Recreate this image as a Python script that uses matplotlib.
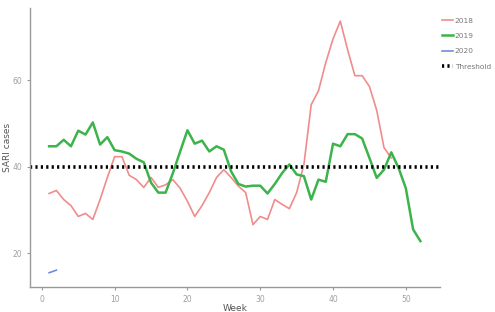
import matplotlib
matplotlib.use("Agg")
import matplotlib.pyplot as plt

weeks_2018 = list(range(1, 49))
cases_2018 = [33.8, 34.5, 32.4, 31.0, 28.5, 29.2, 27.8, 32.4, 37.5, 42.3,
              42.3, 38.0, 37.0, 35.2, 37.5, 35.2, 35.8, 37.0, 35.0, 32.0,
              28.5, 31.0, 34.0, 37.5, 39.3, 37.5, 35.5, 34.0, 26.6, 28.5,
              27.8, 32.4, 31.3, 30.3, 34.0, 40.5, 54.3, 57.5, 64.0, 69.5,
              73.6, 67.0, 61.0, 61.0, 58.5, 53.0, 44.4, 42.0]

weeks_2019 = list(range(1, 53))
cases_2019 = [44.7, 44.7, 46.2, 44.7, 48.3, 47.4, 50.2, 45.1, 46.8, 43.8,
              43.5, 43.0, 41.8, 41.0, 36.3, 34.0, 34.0, 38.5, 43.5, 48.4,
              45.3, 46.0, 43.5, 44.7, 43.9, 38.9, 36.0, 35.4, 35.6, 35.6,
              33.8, 36.0, 38.5, 40.5, 38.2, 37.8, 32.4, 37.0, 36.5, 45.3,
              44.7, 47.5, 47.5, 46.5, 42.0, 37.4, 39.3, 43.3, 39.7, 35.0,
              25.5, 22.8]

weeks_2020 = [1, 2]
cases_2020 = [15.5, 16.1]

threshold = 40

fig = plt.figure(figsize=(4.95, 3.12), dpi=100)
ax = fig.add_axes([0.061, 0.08, 0.828, 0.894])

l1, = ax.plot(weeks_2018, cases_2018, color="#f08c8c", lw=1.2)
l2, = ax.plot(weeks_2019, cases_2019, color="#3cb44b", lw=1.8)
l3, = ax.plot(weeks_2020, cases_2020, color="#6b8fe0", lw=1.2)
l4 = ax.axhline(threshold, color="black", lw=2.6, ls=(0, (0.6, 0.9)))

ax.set_xlim(-1.6, 54.7)
ax.set_ylim(12.2, 76.6)
ax.set_xticks([0, 10, 20, 30, 40, 50])
ax.set_yticks([20, 40, 60])

for s in ["top", "right"]:
    ax.spines[s].set_visible(False)
for s in ["left", "bottom"]:
    ax.spines[s].set_color("#9a9a9a")
    ax.spines[s].set_linewidth(1.0)
ax.tick_params(colors="#9a9a9a", labelcolor="#a0a0a0", labelsize=5.5,
               length=2, width=0.8)
ax.set_xlabel("Week", fontsize=6.5, color="#555555")
ax.set_ylabel("SARI cases", fontsize=6.5, color="#555555")
ax.xaxis.set_label_coords(0.5, -0.06)
ax.yaxis.set_label_coords(-0.045, 0.5)

fig.legend([l1, l2, l3, l4], ["2018", "2019", "2020", "Threshold"],
           loc="upper left", bbox_to_anchor=(0.88, 0.965), frameon=False,
           fontsize=5.3, handlelength=1.4, labelspacing=1.25,
           labelcolor="#777777", handletextpad=0.3)

fig.savefig("out.png", dpi=100)
